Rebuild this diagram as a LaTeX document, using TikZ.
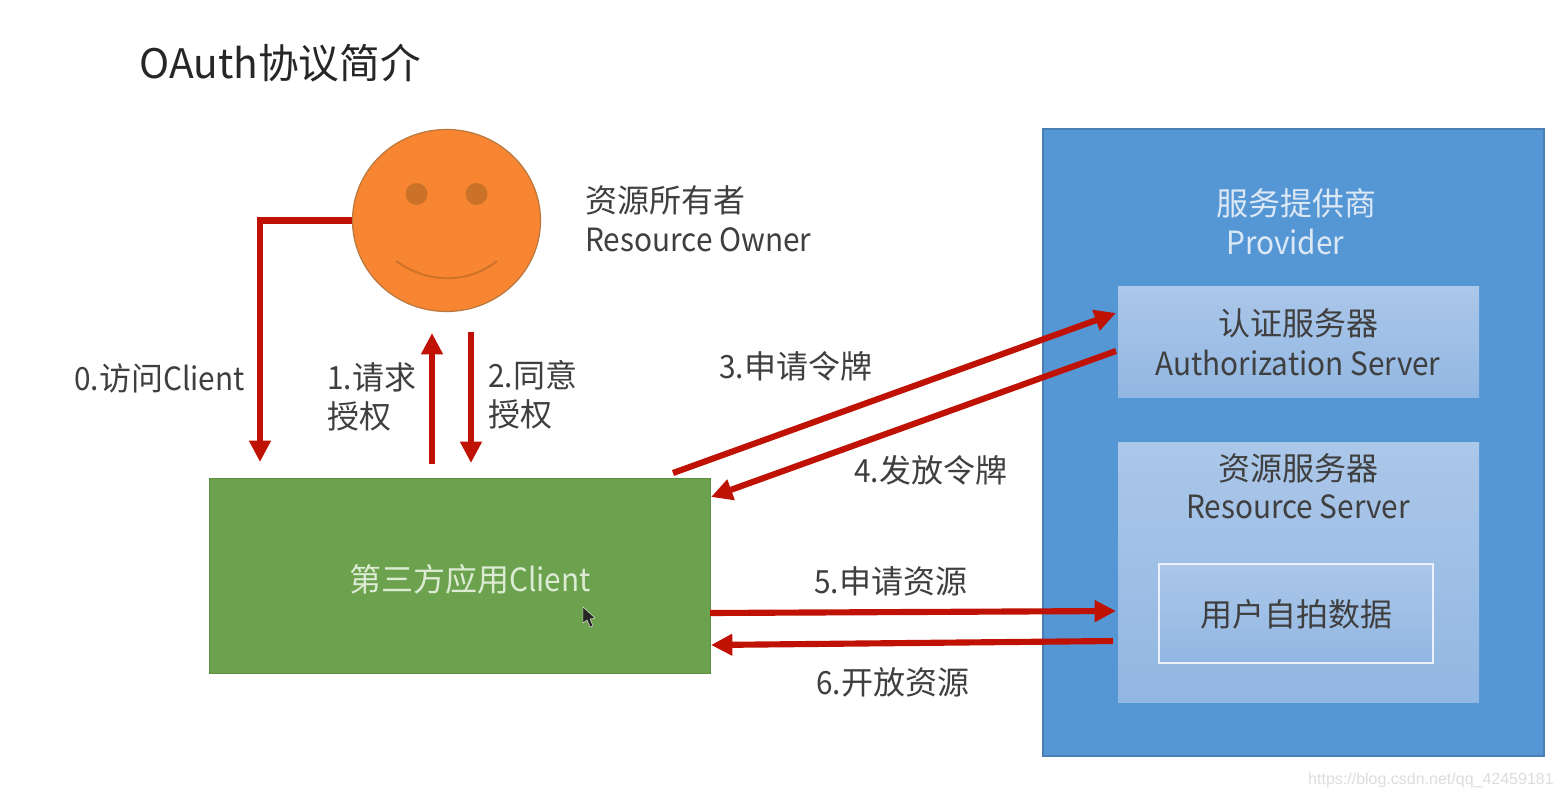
\documentclass[tikz,border=0pt]{standalone}
\usepackage{fontspec}
\setmainfont{Noto Sans CJK SC}
\newfontfamily\latf[FakeStretch=0.93]{Noto Sans CJK SC}
\newcommand{\lat}[1]{{\latf #1}}
\newfontfamily\wmf{Liberation Sans}
\usetikzlibrary{arrows.meta,shapes.geometric}
\definecolor{arrowred}{HTML}{C01204}
\definecolor{txt}{HTML}{3F3F3F}
\definecolor{prov}{HTML}{5596D5}
\definecolor{provd}{HTML}{4A7FB5}
\definecolor{ptop}{HTML}{ABC7E9}
\definecolor{pbot}{HTML}{92B7E2}
\definecolor{clientg}{HTML}{6CA24E}
\definecolor{clientd}{HTML}{5C8F42}
\definecolor{face}{HTML}{F88531}
\definecolor{faced}{HTML}{B8783F}
\definecolor{eye}{HTML}{CB7229}
\definecolor{lighttxt}{HTML}{DCE8F6}
\definecolor{greentxt}{HTML}{DCEBD3}
\definecolor{mark}{HTML}{DDDDDD}
\tikzset{
  flow/.style={draw=arrowred,line width=4.6pt,-{Triangle[length=16pt,width=15.5pt]}},
  lab/.style={inner sep=0pt,anchor=west,text=txt,font=\fontsize{24}{29.25}\selectfont},
  ctr/.style={lab,anchor=center},
  box/.style={inner sep=0pt,outer sep=0pt,anchor=north west},
  panel/.style={box,top color=ptop,bottom color=pbot},
}
\begin{document}
\begin{tikzpicture}[x=0.75pt,y=-0.75pt]
\useasboundingbox (0,0) rectangle (1562,798);
\fill[white] (0,0) rectangle (1562,798);
% boxes
\node[box,minimum width=375.75pt,minimum height=470.25pt,fill=prov,draw=provd,line width=0.8pt] (provider) at (1043,129) {};
\node[panel,minimum width=270.75pt,minimum height=82.5pt] (auth) at (1118,287) {};
\node[panel,minimum width=270.75pt,minimum height=195pt] (res) at (1118,442) {};
\node[panel,minimum width=205.5pt,minimum height=74.25pt,draw=white!75!ptop,line width=1pt] (data) at (1159,564) {};
\node[box,minimum width=375.75pt,minimum height=146.25pt,fill=clientg,draw=clientd,line width=0.6pt] (client) at (209,478) {};
% face
\node[ellipse,inner sep=0pt,minimum width=141pt,minimum height=136.5pt,fill=face,draw=faced,line width=0.9pt] (owner) at (446.5,220.5) {};
\node[circle,inner sep=0pt,minimum size=16.5pt,fill=eye] (eyeL) at (416.5,194) {};
\node[circle,inner sep=0pt,minimum size=16.5pt,fill=eye] (eyeR) at (476.5,194) {};
\draw[eye,line width=1.4pt] (396,261) .. controls (428,284) and (468,284) .. (497,261);
% texts
\node[lab,font=\fontsize{30.5}{36}\selectfont,text=black!85] (title) at (139,63) {OAuth协议简介};
\node[lab] (ownerCn) at (585,200) {资源所有者};
\node[lab] (ownerEn) at (585,240) {\lat{Resource Owner}};
\node[lab,text=lighttxt] (provCn) at (1216,203) {服务提供商};
\node[lab,text=lighttxt] (provEn) at (1226,242) {\lat{Provider}};
\node[ctr] (authCn) at (1298,323) {认证服务器};
\node[ctr] (authEn) at (1298,363) {\lat{Authorization Server}};
\node[ctr] (resCn) at (1298,468) {资源服务器};
\node[ctr] (resEn) at (1298,507) {\lat{Resource Server}};
\node[ctr] (dataT) at (1296,614) {用户自拍数据};
\node[ctr,text=greentxt] (clientT) at (470,579) {第三方应用\lat{Client}};
\node[lab] (l0) at (74,378) {\lat{0.}访问\lat{Client}};
\node[lab] (l1a) at (327,377) {\lat{1.}请求};
\node[lab] (l1b) at (327,416) {授权};
\node[lab] (l2a) at (488,375) {\lat{2.}同意};
\node[lab] (l2b) at (488,414) {授权};
\node[lab] (l3) at (719,366) {\lat{3.}申请令牌};
\node[lab] (l4) at (854,470) {\lat{4.}发放令牌};
\node[lab] (l5) at (814,581) {\lat{5.}申请资源};
\node[lab] (l6) at (816,682) {\lat{6.}开放资源};
\node[inner sep=0pt,anchor=east,text=mark,font=\wmf\fontsize{12}{14}\selectfont] (wm) at (1554,780) {https://blog.csdn.net/qq\_42459181};
% connector ends
\coordinate (e0) at (260,462);
\coordinate (s1) at (432,464);
\coordinate (e1) at (432,333);
\coordinate (s2) at (471,332);
\coordinate (e2) at (471,463);
\coordinate (s3) at (673,473);
\coordinate (e3) at (1116,313);
\coordinate (s4) at (1116,351);
\coordinate (e4) at (711,497);
\coordinate (s5) at (710,613);
\coordinate (e5) at (1116,611);
\coordinate (s6) at (1113,641);
\coordinate (e6) at (711,645);
\draw[flow] (owner.west) -- (owner.west -| e0) -- (e0);
\draw[flow] (s1) -- (e1);
\draw[flow] (s2) -- (e2);
\draw[flow] (s3) -- (e3);
\draw[flow] (s4) -- (e4);
\draw[flow] (s5) -- (e5);
\draw[flow] (s6) -- (e6);
% pointer
\fill[black!85,draw=white,line width=0.3pt] (583,607) -- (583,623) -- (587,620) -- (590,627) -- (593,626) -- (590,619) -- (595,618) -- cycle;
\end{tikzpicture}
\end{document}
